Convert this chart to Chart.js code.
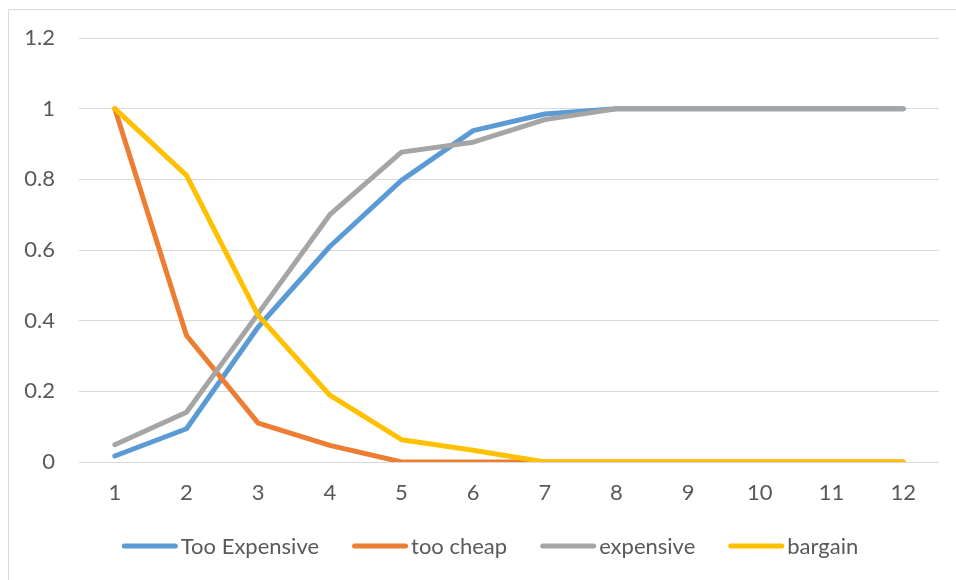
<!DOCTYPE html>
<html>
<head>
<meta charset="utf-8">
<script src="https://cdn.jsdelivr.net/npm/chart.js@4/dist/chart.umd.min.js"></script>
<style>
  html, body { margin: 0; padding: 0; background: #ffffff; width: 956px; height: 580px; overflow: hidden; }
  #frame { position: absolute; left: 8px; top: 9px; width: 1000px; height: 620px; border: 1px solid #d9d9d9; background: #ffffff; }
  #chart { position: absolute; left: 0; top: 0; }
</style>
</head>
<body>
<div id="frame"><canvas id="chart" width="968" height="570"></canvas></div>
<script>
// Price points on the horizontal axis
const categories = ['1', '2', '3', '4', '5', '6', '7', '8', '9', '10', '11', '12'];

// Cumulative share of respondents per price point
const tooExpensive = [0.017, 0.094, 0.382, 0.61, 0.797, 0.938, 0.985, 1, 1, 1, 1, 1];
const tooCheap     = [1, 0.358, 0.11, 0.047, 0, 0, 0, 0, 0, 0, 0, 0];
const expensive    = [0.049, 0.141, 0.42, 0.70, 0.877, 0.905, 0.969, 1, 1, 1, 1, 1];
const bargain      = [1, 0.811, 0.415, 0.189, 0.063, 0.033, 0, 0, 0, 0, 0, 0];

const seriesNames  = ['Too Expensive', 'too cheap', 'expensive', 'bargain'];
const seriesColors = ['#5B9BD5', '#ED7D31', '#A5A5A5', '#FFC000'];

// Y axis range and step
const yMin = 0, yMax = 1.2, yStep = 0.2;

const FONT = 'Lato, "Open Sans", sans-serif';
const FONT_SIZE = 22;
const TEXT_COLOR = '#595959';

const seriesValues = [tooExpensive, tooCheap, expensive, bargain];

const datasets = seriesValues.map((vals, i) => ({
  label: seriesNames[i],
  data: vals,
  borderColor: seriesColors[i],
  backgroundColor: seriesColors[i],
  borderWidth: 5,
  borderCapStyle: 'round',
  borderJoinStyle: 'round',
  pointRadius: 0,
  pointHoverRadius: 0,
  tension: 0,
  fill: false,
  // later series are painted on top
  order: seriesValues.length - i
}));

// Legend drawn under the plot: short line swatch followed by the name
const lineLegend = {
  id: 'lineLegend',
  afterDraw(chart) {
    const ctx = chart.ctx;
    const swatch = 56, gap = 3, spacing = 33;
    ctx.save();
    ctx.font = FONT_SIZE + 'px ' + FONT;
    ctx.textBaseline = 'middle';
    ctx.textAlign = 'left';
    const items = chart.data.datasets.map(ds => ({
      label: ds.label, color: ds.borderColor, w: ctx.measureText(ds.label).width
    }));
    const total = items.reduce((s, it) => s + swatch + gap + it.w, 0) + spacing * (items.length - 1);
    let x = chart.width / 2 - total / 2 - 3;
    const y = 536;
    items.forEach(it => {
      ctx.strokeStyle = it.color;
      ctx.lineWidth = 5;
      ctx.lineCap = 'round';
      ctx.beginPath();
      ctx.moveTo(x + 2.5, y);
      ctx.lineTo(x + swatch - 2.5, y);
      ctx.stroke();
      ctx.fillStyle = TEXT_COLOR;
      ctx.fillText(it.label, x + swatch + gap, y + 1);
      x += swatch + gap + it.w + spacing;
    });
    ctx.restore();
  }
};

new Chart(document.getElementById('chart'), {
  type: 'line',
  data: { labels: categories, datasets: datasets },
  options: {
    responsive: false,
    animation: false,
    events: [],
    layout: { padding: { top: 28, right: 38, bottom: 0, left: 0 } },
    plugins: {
      legend: { display: false },
      tooltip: { enabled: false },
      title: { display: false }
    },
    scales: {
      x: {
        type: 'category',
        offset: true,
        grid: { display: false, drawTicks: false },
        border: { display: false },
        ticks: {
          color: TEXT_COLOR,
          font: { family: FONT, size: FONT_SIZE },
          padding: 18,
          maxRotation: 0,
          autoSkip: false
        },
        afterFit(scale) { scale.height = 118; scale.paddingLeft = 0; scale.paddingRight = 0; }
      },
      y: {
        min: yMin,
        max: yMax,
        grid: { color: '#d9d9d9', lineWidth: 1, drawTicks: false },
        border: { display: false },
        ticks: {
          stepSize: yStep,
          color: TEXT_COLOR,
          font: { family: FONT, size: FONT_SIZE },
          padding: 24,
          callback: (v) => String(Number(v.toFixed(1)))
        },
        afterFit(scale) { scale.width = 70; scale.paddingTop = 0; scale.paddingBottom = 0; }
      }
    }
  },
  plugins: [lineLegend]
});
</script>
</body>
</html>
